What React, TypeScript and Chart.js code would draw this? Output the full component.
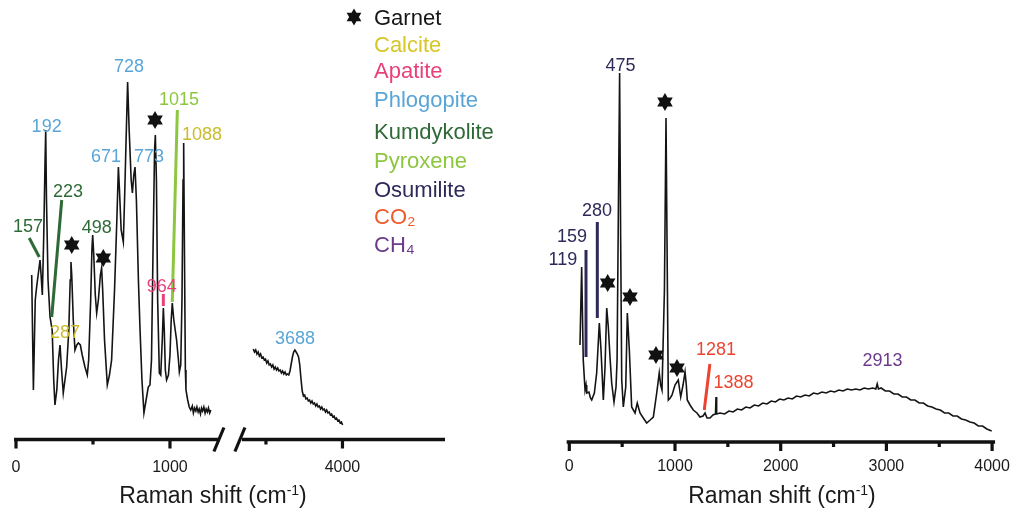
import React, { useEffect, useRef } from "react";
import { Chart, registerables } from "chart.js";

Chart.register(...registerables);

const W = 1016;
const H = 518;
const FONT = '"Liberation Sans", Arial, Helvetica, sans-serif';

// ---------------- DATA ----------------
// Left panel, low-wavenumber segment (Raman shift cm-1, intensity a.u.)
const leftLowShift = [102,113,125,134,148,156,163,171,180,188,193,198,208,221,235,245,253,265,276,286,296,307,318,329,343,352,357,362,372,383,395,405,418,430,448,463,472,485,493,498,505,515,524,535,548,556,563,575,593,607,621,640,655,665,672,683,697,705,715,725,735,748,756,765,773,782,795,805,818,831,845,859,870,880,890,900,905,912,920,931,940,950,957,963,970,978,990,1000,1008,1015,1025,1043,1055,1061,1070,1078,1085,1089,1094,1100,1104,1115,1125,1135,1145,1152,1160,1168,1175,1183,1190,1198,1205,1212,1220,1228,1235,1243,1250,1258,1265];
const leftLowIntensity = [162,47,137,150,167,177,162,142,200,270,307,237,157,120,107,57,32,47,77,92,67,44,57,70,107,157,175,162,117,87,92,94,92,82,70,62,77,137,187,202,182,142,124,137,162,169,147,97,52,62,77,147,217,270,247,207,195,237,297,355,307,257,244,262,270,237,157,110,57,24,37,50,52,77,187,287,302,257,137,64,62,97,129,107,67,57,62,82,117,134,117,97,77,65,72,137,257,294,187,67,47,37,30,27,31,24,29,26,30,25,28,23,29,26,30,24,28,25,29,24,27];

// Left panel, high-wavenumber segment (after the axis break)
const leftHighShift = [3417,3425,3433,3441,3449,3457,3465,3473,3481,3489,3497,3505,3513,3521,3529,3537,3545,3553,3561,3569,3577,3585,3593,3601,3609,3617,3625,3633,3641,3649,3657,3665,3673,3681,3689,3697,3705,3713,3721,3729,3737,3745,3753,3761,3769,3777,3785,3793,3801,3809,3817,3825,3833,3841,3849,3857,3865,3873,3881,3889,3897,3905,3913,3921,3929,3937,3945,3953,3961,3969,3977,3985,3993,4001];
const leftHighIntensity = [88,85,87,83,85,81,83,79,80,77,78,74,76,72,73,70,72,68,70,67,69,66,67,64,66,63,65,62,63,62,66,73,80,85,87,85,83,80,72,58,46,41,42,38,39,36,37,34,36,33,34,31,33,30,31,28,30,27,28,25,27,24,25,22,23,20,21,18,19,16,17,14,15,12];

// Right panel
const rightShift = [101,117,132,149,158,165,186,200,212,237,259,284,300,322,338,354,369,385,401,423,442,452,466,476,486,496,511,534,549,568,590,622,643,669,700,732,765,795,827,851,864,877,900,915,926,937,955,972,1000,1031,1054,1076,1095,1107,1116,1142,1173,1208,1236,1265,1284,1303,1331,1359,1383,1388,1394,1426,1470,1510,1550,1590,1630,1670,1710,1750,1790,1830,1870,1910,1950,1990,2030,2070,2110,2150,2190,2230,2270,2310,2350,2390,2430,2470,2510,2550,2590,2630,2670,2710,2750,2790,2830,2870,2900,2913,2925,2950,2990,3030,3070,3110,3150,3190,3230,3270,3310,3350,3390,3430,3470,3510,3550,3590,3630,3670,3710,3750,3790,3830,3870,3910,3950,3996];
const rightIntensity = [95,173,80,50,55,47,48,42,40,47,67,117,90,40,73,132,113,83,57,38,53,80,250,367,200,60,33,53,127,90,33,27,37,27,22,17,20,23,47,67,55,50,150,322,180,40,42,45,55,60,43,55,68,55,40,35,30,27,23,24,27,22,22,25,26,43,26,27,26,29,28,31,30,33,32,35,34,37,36,39,38,41,40,42,41,44,43,45,44,47,46,48,47,49,48,50,49,51,50,51,50,52,51,52,51,56,51,52,49,49,46,46,43,43,40,40,37,37,34,33,31,30,27,27,24,24,21,20,18,17,14,14,11,9];

// Tick labels
const leftLowTicks = ["0", "1000"];
const leftHighTicks = ["4000"];
const rightTicks = ["0", "1000", "2000", "3000", "4000"];

// Mineral legend
const legendNames = ["Garnet", "Calcite", "Apatite", "Phlogopite", "Kumdykolite", "Pyroxene", "Osumilite", "CO₂", "CH₄"];

// ---------------- STYLE ----------------
const C = {
  black: "#161616",
  calcite: "#cbbb2c",
  apatite: "#e8417a",
  phlogopite: "#5aa5d6",
  kumdykolite: "#2e6a36",
  pyroxene: "#8dc63f",
  osumilite: "#2d2a5a",
  co2: "#ec4430",
  ch4: "#6b3a8c",
};
const legendColors = [C.black, "#d6c628", C.apatite, C.phlogopite, C.kumdykolite, C.pyroxene, C.osumilite, "#ef5a2a", C.ch4];
const legendBaselines = [25, 52, 78, 107, 139, 168, 197, 224, 252];

type Lbl = { text: string; x: number; y: number; color: string };
type Seg = { x1: number; y1: number; x2: number; y2: number; color: string };
type Pt = { x: number; y: number };

type Overlay = {
  axisFrom: number;
  axisTo: number;
  axisOffset: number;
  major: number[];
  minor: number[];
  tickText: string[];
  tickLabelY: number;
  labels: Lbl[];
  segs: Seg[];
  stars: Pt[];
  slashes: number[];
  legend?: boolean;
  titleX?: number;
};

function drawStar(ctx: CanvasRenderingContext2D, x: number, y: number, r: number) {
  ctx.beginPath();
  for (let t = 0; t < 2; t++) {
    for (let k = 0; k < 3; k++) {
      const a = -Math.PI / 2 + t * Math.PI + (k * 2 * Math.PI) / 3;
      const X = x + r * Math.cos(a);
      const Y = y + r * Math.sin(a);
      if (k === 0) ctx.moveTo(X, Y);
      else ctx.lineTo(X, Y);
    }
    ctx.closePath();
  }
  ctx.fill();
}

function drawTitle(ctx: CanvasRenderingContext2D, cx: number, baseline: number) {
  const a = "Raman shift (cm";
  const s = "-1";
  const b = ")";
  ctx.font = `23px ${FONT}`;
  const wa = ctx.measureText(a).width;
  const wb = ctx.measureText(b).width;
  ctx.font = `14px ${FONT}`;
  const ws = ctx.measureText(s).width;
  let x = cx - (wa + ws + wb) / 2;
  ctx.fillStyle = "#1a1a1a";
  ctx.textAlign = "left";
  ctx.textBaseline = "alphabetic";
  ctx.font = `23px ${FONT}`;
  ctx.fillText(a, x, baseline);
  x += wa;
  ctx.font = `14px ${FONT}`;
  ctx.fillText(s, x, baseline - 8);
  x += ws;
  ctx.font = `23px ${FONT}`;
  ctx.fillText(b, x, baseline);
}

function overlayPlugin(o: Overlay) {
  return {
    id: "overlay",
    afterDraw(chart: any) {
      const ctx: CanvasRenderingContext2D = chart.ctx;
      const xs = chart.scales.x;
      const ys = chart.scales.y;
      const px = (v: number) => xs.getPixelForValue(v);
      const py = (v: number) => ys.getPixelForValue(v);
      const axisY = chart.chartArea.bottom + o.axisOffset;
      ctx.save();
      // axis line
      ctx.strokeStyle = "#111";
      ctx.lineCap = "butt";
      ctx.lineWidth = 3.5;
      ctx.beginPath();
      ctx.moveTo(px(o.axisFrom), axisY);
      ctx.lineTo(px(o.axisTo), axisY);
      ctx.stroke();
      ctx.lineWidth = 3.2;
      for (const v of o.major) {
        ctx.beginPath();
        ctx.moveTo(px(v), axisY);
        ctx.lineTo(px(v), axisY + 9);
        ctx.stroke();
      }
      for (const v of o.minor) {
        ctx.beginPath();
        ctx.moveTo(px(v), axisY);
        ctx.lineTo(px(v), axisY + 5);
        ctx.stroke();
      }
      // axis break slashes
      ctx.lineWidth = 3.2;
      for (const v of o.slashes) {
        const cx = px(v);
        ctx.beginPath();
        ctx.moveTo(cx - 5, axisY + 12);
        ctx.lineTo(cx + 5, axisY - 12);
        ctx.stroke();
      }
      // tick labels
      ctx.fillStyle = "#1a1a1a";
      ctx.font = `16px ${FONT}`;
      ctx.textAlign = "center";
      ctx.textBaseline = "middle";
      o.major.forEach((v, i) => {
        if (o.tickText[i]) ctx.fillText(o.tickText[i], px(v), o.tickLabelY);
      });
      // annotation segments
      ctx.lineWidth = 3;
      for (const s of o.segs) {
        ctx.strokeStyle = s.color;
        ctx.beginPath();
        ctx.moveTo(px(s.x1), py(s.y1));
        ctx.lineTo(px(s.x2), py(s.y2));
        ctx.stroke();
      }
      // peak labels
      ctx.font = `18px ${FONT}`;
      ctx.textAlign = "center";
      ctx.textBaseline = "middle";
      for (const l of o.labels) {
        ctx.fillStyle = l.color;
        ctx.fillText(l.text, px(l.x), py(l.y));
      }
      // garnet stars
      ctx.fillStyle = "#111";
      for (const s of o.stars) drawStar(ctx, px(s.x), py(s.y), 9);
      // legend
      if (o.legend) {
        ctx.font = `22px ${FONT}`;
        ctx.textAlign = "left";
        ctx.textBaseline = "alphabetic";
        legendNames.forEach((n, i) => {
          ctx.fillStyle = legendColors[i];
          ctx.fillText(n, 374, legendBaselines[i]);
        });
        ctx.fillStyle = "#111";
        drawStar(ctx, 354, 17, 8.5);
      }
      if (o.titleX !== undefined) drawTitle(ctx, o.titleX, 503);
      ctx.restore();
    },
  };
}

type Panel = {
  shift: number[];
  intensity: number[];
  xmin: number;
  xmax: number;
  ymax: number;
  pad: { left: number; right: number; top: number; bottom: number };
  overlay: Overlay;
};

const panels: Panel[] = [
  {
    shift: leftLowShift,
    intensity: leftLowIntensity,
    xmin: 0,
    xmax: 1273,
    ymax: 377,
    pad: { left: 16, right: W - 212, top: 60, bottom: H - 437 },
    overlay: {
      axisFrom: -13,
      axisTo: 1325,
      axisOffset: 2.5,
      major: [0, 1000],
      minor: [500],
      tickText: leftLowTicks,
      tickLabelY: 468,
      labels: [
        { text: "192", x: 199, y: 310, color: C.phlogopite },
        { text: "728", x: 734, y: 370, color: C.phlogopite },
        { text: "671", x: 585, y: 280, color: C.phlogopite },
        { text: "773", x: 864, y: 280, color: C.phlogopite },
        { text: "223", x: 338, y: 245, color: C.kumdykolite },
        { text: "157", x: 78, y: 210, color: C.kumdykolite },
        { text: "498", x: 524, y: 209, color: C.kumdykolite },
        { text: "964", x: 946, y: 150, color: C.apatite },
        { text: "1015", x: 1059, y: 337, color: C.pyroxene },
        { text: "1088", x: 1208, y: 302, color: C.calcite },
        { text: "287", x: 318, y: 104, color: C.calcite },
      ],
      segs: [
        { x1: 86, y1: 199, x2: 151, y2: 180, color: C.kumdykolite },
        { x1: 297, y1: 237, x2: 232, y2: 120, color: C.kumdykolite },
        { x1: 1048, y1: 327, x2: 1015, y2: 135, color: C.pyroxene },
        { x1: 957, y1: 143, x2: 957, y2: 131, color: C.apatite },
      ],
      stars: [
        { x: 362, y: 192 },
        { x: 567, y: 179 },
        { x: 903, y: 317 },
      ],
      slashes: [1318],
      titleX: 213,
    },
  },
  {
    shift: leftHighShift,
    intensity: leftHighIntensity,
    xmin: 3350,
    xmax: 4670,
    ymax: 377,
    pad: { left: 243, right: W - 445, top: 60, bottom: H - 437 },
    overlay: {
      axisFrom: 3343,
      axisTo: 4670,
      axisOffset: 2.5,
      major: [4000],
      minor: [3500],
      tickText: leftHighTicks,
      tickLabelY: 468,
      labels: [{ text: "3688", x: 3690, y: 98, color: C.phlogopite }],
      segs: [],
      stars: [],
      slashes: [3330],
      legend: true,
    },
  },
  {
    shift: rightShift,
    intensity: rightIntensity,
    xmin: 0,
    xmax: 4000,
    ymax: 380,
    pad: { left: 569.3, right: W - 992.1, top: 60, bottom: H - 440 },
    overlay: {
      axisFrom: -25,
      axisTo: 4028,
      axisOffset: 2,
      major: [0, 1000, 2000, 3000, 4000],
      minor: [500, 1500, 2500, 3500],
      tickText: rightTicks,
      tickLabelY: 467,
      labels: [
        { text: "475", x: 484, y: 374, color: C.osumilite },
        { text: "280", x: 262, y: 229, color: C.osumilite },
        { text: "159", x: 26, y: 203, color: C.osumilite },
        { text: "119", x: -60, y: 180, color: C.osumilite },
        { text: "1281", x: 1388, y: 90, color: C.co2 },
        { text: "1388", x: 1553, y: 57, color: C.co2 },
        { text: "2913", x: 2963, y: 79, color: C.ch4 },
      ],
      segs: [
        { x1: 158, y1: 190, x2: 158, y2: 83, color: C.osumilite },
        { x1: 265, y1: 218, x2: 265, y2: 122, color: C.osumilite },
        { x1: 1330, y1: 76, x2: 1277, y2: 30, color: C.co2 },
      ],
      stars: [
        { x: 905, y: 338 },
        { x: 363, y: 157 },
        { x: 574, y: 143 },
        { x: 820, y: 85 },
        { x: 1019, y: 72 },
      ],
      slashes: [],
      titleX: 782,
    },
  },
];

function buildChart(canvas: HTMLCanvasElement, p: Panel) {
  return new Chart(canvas, {
    type: "line",
    data: {
      datasets: [
        {
          data: p.shift.map((x, i) => ({ x, y: p.intensity[i] })),
          borderColor: "#141414",
          borderWidth: 1.6,
          pointRadius: 0,
          tension: 0,
          fill: false,
        },
      ],
    },
    options: {
      responsive: false,
      maintainAspectRatio: false,
      animation: false,
      devicePixelRatio: 1,
      events: [],
      layout: { padding: p.pad },
      plugins: { legend: { display: false }, tooltip: { enabled: false } },
      scales: {
        x: { type: "linear", display: false, min: p.xmin, max: p.xmax },
        y: { type: "linear", display: false, min: 0, max: p.ymax },
      },
    },
    plugins: [overlayPlugin(p.overlay)],
  } as any);
}

export default function App() {
  const r0 = useRef<HTMLCanvasElement>(null);
  const r1 = useRef<HTMLCanvasElement>(null);
  const r2 = useRef<HTMLCanvasElement>(null);
  const refs = [r0, r1, r2];

  useEffect(() => {
    const charts = refs.map((r, i) => buildChart(r.current as HTMLCanvasElement, panels[i]));
    return () => charts.forEach((c) => c.destroy());
  }, []);

  return (
    <div style={{ position: "absolute", left: 0, top: 0, width: W, height: H, background: "#fff", overflow: "hidden" }}>
      {refs.map((r, i) => (
        <canvas
          key={i}
          ref={r}
          width={W}
          height={H}
          style={{ position: "absolute", left: 0, top: 0, width: W, height: H }}
        />
      ))}
    </div>
  );
}
